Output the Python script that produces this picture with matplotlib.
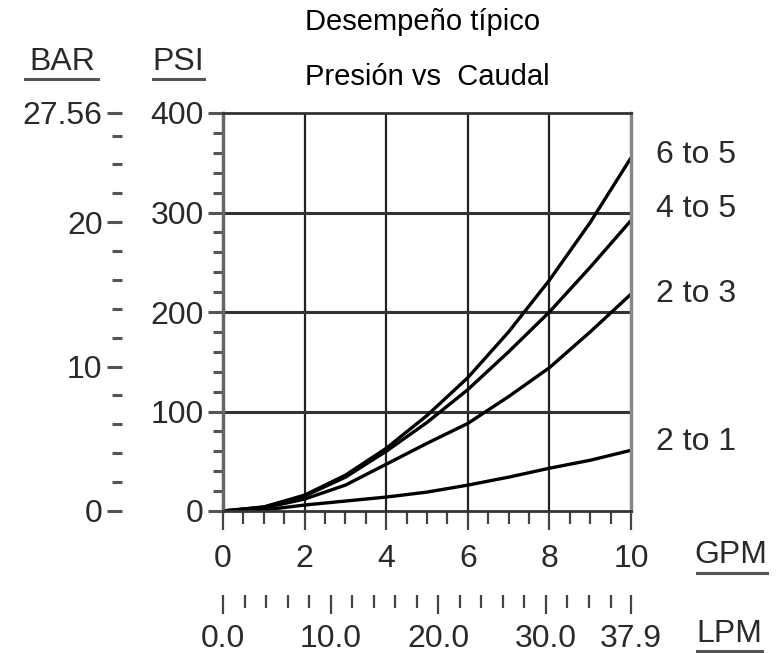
import matplotlib
matplotlib.use("Agg")
from matplotlib import pyplot as plt
from matplotlib.lines import Line2D
import numpy as np

# datos
gpm = [0, 1, 2, 3, 4, 5, 6, 7, 8, 9, 10]
psi_6a5 = [0, 4, 16, 36, 63, 96, 134, 180, 232, 290, 355]
psi_4a5 = [0, 4, 15, 34, 60, 89, 122, 160, 200, 245, 292]
psi_2a3 = [0, 3, 12, 26, 47, 68, 88, 115, 144, 180, 218]
psi_2a1 = [0, 1, 6, 10, 14, 19, 26, 34, 43, 51, 61]
curvas = ["6 to 5", "4 to 5", "2 to 3", "2 to 1"]
desfase = [2, 8, 0, 6]  # offset de las etiquetas (pt)

psi_ticks = [0, 100, 200, 300, 400]
bar_ticks = [0, 10, 20, 27.56]
bar_labels = ["0", "10", "20", "27.56"]
gpm_ticks = [0, 2, 4, 6, 8, 10]
lpm_ticks = [0.0, 10.0, 20.0, 30.0, 37.9]
lpm_labels = ["0.0", "10.0", "20.0", "30.0", "37.9"]

fuente = ["Liberation Sans Narrow", "Liberation Sans", "DejaVu Sans"]
plt.rcParams['font.family'] = fuente
fs = 23
gris = "#2a2a2a"

fig = plt.figure(figsize=(7.77, 6.53), dpi=100)
ax = fig.add_axes([223/777, 1-511/653, 408/777, 398/653])

for ys in [psi_6a5, psi_4a5, psi_2a3, psi_2a1]:
    ax.plot(gpm, ys, color="black", lw=2.4, solid_capstyle="butt")

ax.set_xlim(0, 10)
ax.set_ylim(0, 400)
for g in [2, 4, 6, 8]:
    ax.axvline(g, color="#222222", lw=1.6, zorder=0)
for p in [100, 200, 300]:
    ax.axhline(p, color="#333333", lw=2.2, zorder=0)

ax.spines['left'].set_color("#666666")
ax.spines['left'].set_linewidth(2.5)
ax.spines['right'].set_color("#888888")
ax.spines['right'].set_linewidth(2.5)
ax.spines['top'].set_color("#333333")
ax.spines['top'].set_linewidth(2)
ax.spines['bottom'].set_color("#333333")
ax.spines['bottom'].set_linewidth(2)

# eje PSI
ax.set_yticks(psi_ticks)
ax.set_yticks(np.arange(0, 400, 20), minor=True)
ax.tick_params(axis="y", which="major", length=11, width=2.2, color="#555555",
               labelsize=fs, labelcolor=gris, pad=3)
ax.tick_params(axis="y", which="minor", length=7, width=2.2, color="#555555")

# eje GPM
ax.set_xticks(gpm_ticks)
ax.set_xticklabels([str(g) for g in gpm_ticks])
ax.set_xticks(np.arange(0, 10.01, 0.5), minor=True)
ax.tick_params(axis="x", which="major", length=14, width=1.6, color="#444444",
               labelsize=fs, labelcolor=gris, pad=10)
ax.tick_params(axis="x", which="minor", length=9, width=1.6, color="#444444")

# eje BAR
bar = ax.secondary_yaxis(-101/408, functions=(lambda p: p*27.56/400, lambda b: b*400/27.56))
bar.set_yticks(bar_ticks)
bar.set_yticklabels(bar_labels)
bar.set_yticks(np.arange(2, 27, 2), minor=True)
bar.spines['left'].set_visible(False)
bar.tick_params(axis="y", which="major", length=11, width=2.2, color="#555555",
                labelsize=fs, labelcolor=gris, pad=3)
bar.tick_params(axis="y", which="minor", length=7, width=2.2, color="#555555")

# eje LPM
lpm = ax.secondary_xaxis(-84/398, functions=(lambda g: g*3.79, lambda l: l/3.79))
lpm.set_xticks(lpm_ticks)
lpm.set_xticklabels(lpm_labels)
lpm.set_xticks(np.arange(0, 37, 2), minor=True)
lpm.spines['bottom'].set_visible(False)
lpm.tick_params(axis="x", which="major", length=14, width=1.6, color="#444444",
                labelsize=fs, labelcolor=gris, pad=7)
lpm.tick_params(axis="x", which="minor", length=9, width=1.6, color="#444444")

# etiquetas de las curvas
for nombre, ys, d in zip(curvas, [psi_6a5, psi_4a5, psi_2a3, psi_2a1], desfase):
    ax.annotate(nombre, xy=(gpm[-1], ys[-1]), xytext=(18, d), textcoords="offset points",
                ha="left", va="center", fontsize=fs, color=gris, annotation_clip=False)

# titulos y unidades
fig.text(305/777, 1-22/653, "Desempeño típico", ha="left", va="center", fontsize=21, color="black")
fig.text(305/777, 1-77/653, "Presión vs  Caudal", ha="left", va="center", fontsize=21, color="black")


def unidad(x, y, txt, x0, x1, yl):
    fig.text(x/777, 1-y/653, txt, ha="center", va="center", fontsize=fs, color=gris)
    fig.add_artist(Line2D([x0/777, x1/777], [1-yl/653, 1-yl/653], color="#555555", lw=2.2))


unidad(62, 62, "BAR", 25, 98, 79)
unidad(178, 62, "PSI", 153, 204, 79)
unidad(731, 555, "GPM", 697, 767, 573)
unidad(729, 634, "LPM", 697, 762, 651)

fig.savefig("out.png", dpi=100)
